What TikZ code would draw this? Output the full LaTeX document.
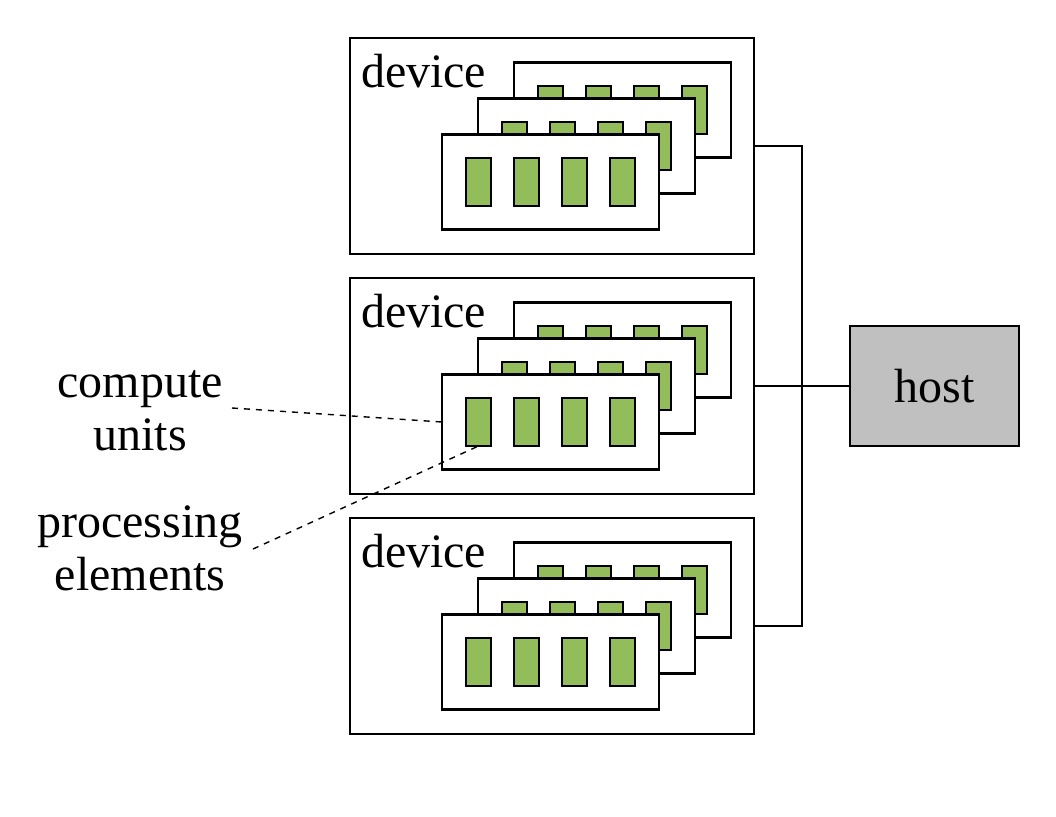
\documentclass[tikz,border=0pt]{standalone}
\usepackage{fontspec}
\setmainfont{Liberation Serif}
\usetikzlibrary{calc}
\definecolor{pegreen}{RGB}{146,189,90}
\definecolor{hostgray}{RGB}{192,192,192}
\begin{document}
\begin{tikzpicture}[x=0.5pt,y=-0.5pt,line width=1.1pt,
    every node/.style={inner sep=0pt,outer sep=0pt,font=\fontsize{24}{26.5}\selectfont},
    devbox/.style={draw,minimum width=202pt,minimum height=108pt},
    cubox/.style={draw,fill=white,minimum width=108.5pt,minimum height=47.5pt},
    pebox/.style={draw,fill=pegreen,minimum width=12.5pt,minimum height=24pt},
    hostbox/.style={draw,fill=hostgray,minimum width=84.5pt,minimum height=60pt},
    callout/.style={dashed,line width=0.7pt}]
  \useasboundingbox (0,0) rectangle (1056,816);
  % three devices, each with three stacked compute units
  \foreach \i in {0,1,2} {
    \node[devbox] (dev\i) at (552,146+240*\i) {};
    \node[anchor=base west] (devlbl\i) at (361,87+240*\i) {device};
    \foreach \k in {0,1,2} {
      \node[cubox] (cu\i\k) at (622.5-36*\k,110+36*\k+240*\i) {};
      \foreach \m in {0,...,3}
        \node[pebox] (pe\i\k\m) at ($(cu\i\k)+(-72+48*\m,0)$) {};
    }
  }
  % host and bus
  \node[hostbox] (host) at (934.5,386) {host};
  \coordinate (busx) at (802,0);
  \draw (dev0.east) -| (busx |- dev2.east) -- (dev2.east);
  \draw (dev1.east) -- (host.west);
  % callouts
  \node[align=center,anchor=base] (culbl) at (140,450) {compute\\units};
  \node[align=center,anchor=base] (pelbl) at (140,590) {processing\\elements};
  \coordinate (cutail) at (232,408);
  \coordinate (petail) at (253,549);
  \draw[callout] (cutail) -- (cu12.west);
  \draw[callout] (petail) -- (pe120.south);
\end{tikzpicture}
\end{document}
